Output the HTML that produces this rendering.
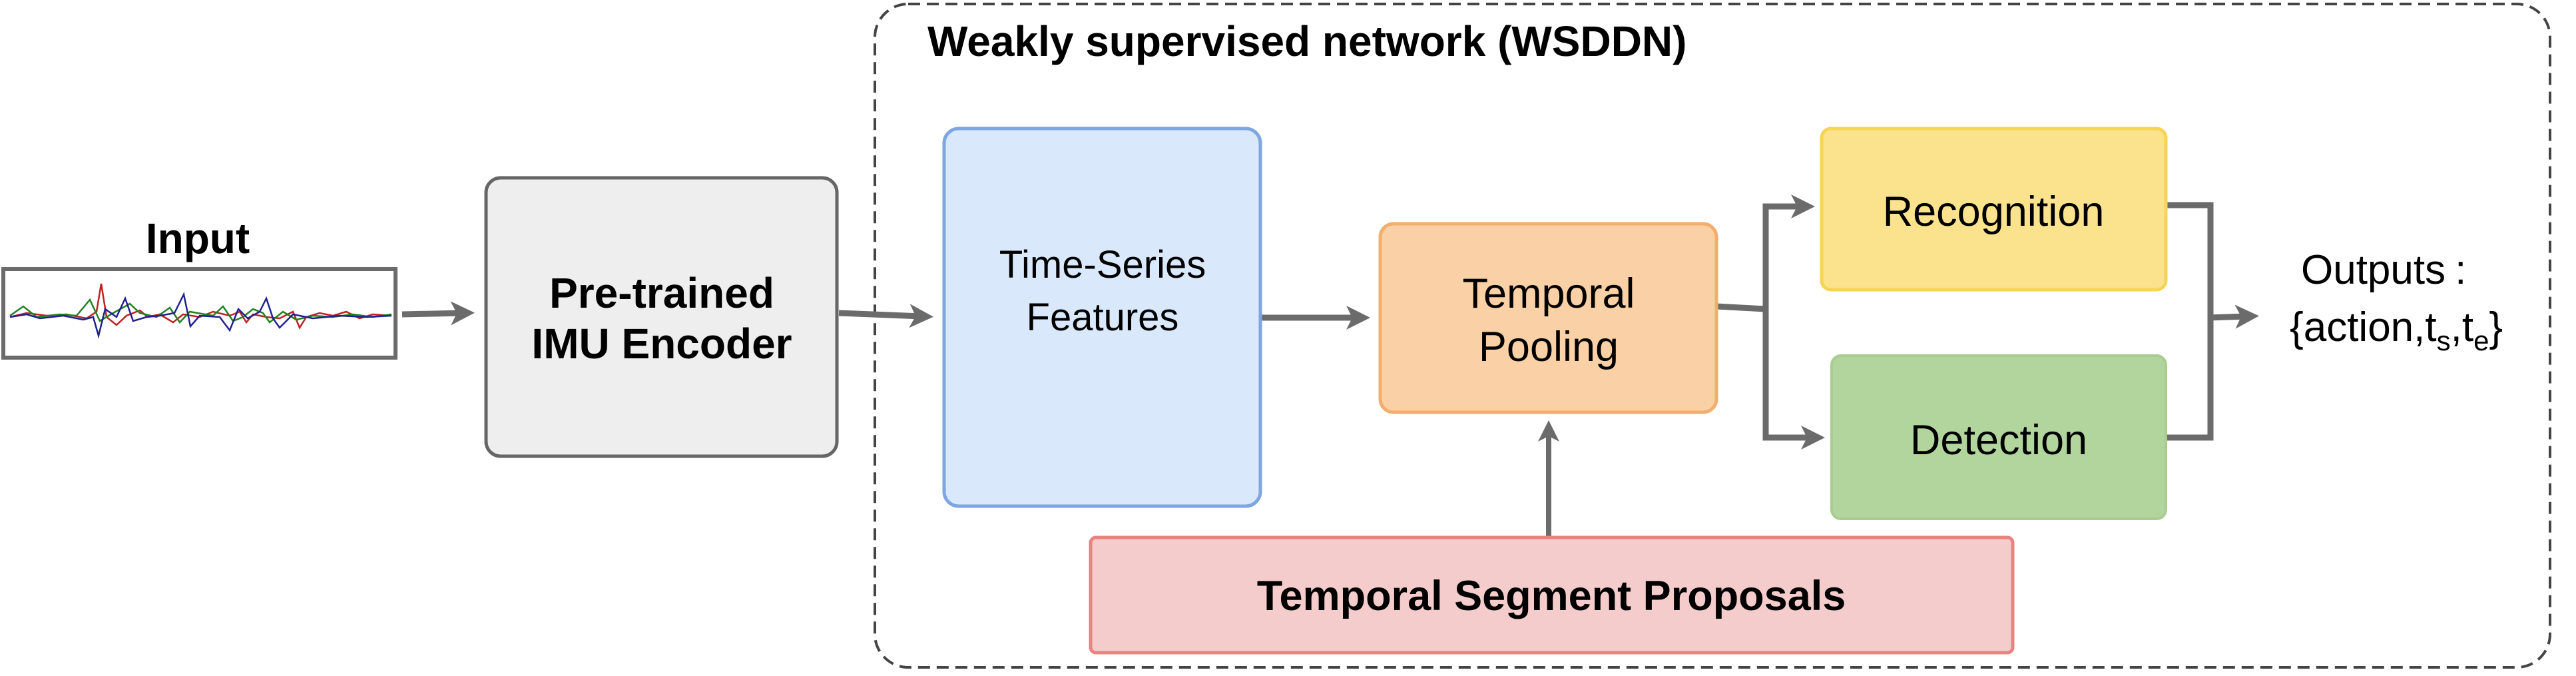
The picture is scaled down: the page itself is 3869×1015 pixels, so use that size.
<!DOCTYPE html>
<html><head><meta charset="utf-8"><style>
body{margin:0;background:#fff;}
svg text{font-family:"Liberation Sans",Arial,sans-serif;}
</style></head><body>
<svg width="3869" height="1010" viewBox="0 0 3869 1010" xmlns="http://www.w3.org/2000/svg">
<defs>
<marker id="ah" markerWidth="4" markerHeight="4" refX="2" refY="2" orient="auto" markerUnits="strokeWidth">
<path d="M0,0 L4,2 L0,4 L1,2 Z" fill="#6b6b6b"/>
</marker>
</defs>
<!-- dashed container -->
<rect x="1314" y="6" width="2516" height="996" rx="50" fill="none" stroke="#444" stroke-width="4" stroke-dasharray="18,10"/>
<text x="1393" y="84" font-size="64" font-weight="bold">Weakly supervised network (WSDDN)</text>

<!-- input -->
<text x="297" y="380" font-size="64" font-weight="bold" text-anchor="middle">Input</text>
<rect x="5" y="404" width="589" height="133" fill="#fff" stroke="#6b6b6b" stroke-width="6"/>
<polyline fill="none" stroke="#c02020" stroke-width="2.5" points="15,476 40,470 70,474 100,472 130,478 145,468 152,426 160,476 175,488 190,474 210,466 222,476 240,472 260,484 275,472 300,476 320,468 345,474 360,468 370,484 380,472 400,476 420,478 440,468 450,492 460,476 480,470 500,474 520,468 540,478 560,472 588,474"/>
<polyline fill="none" stroke="#208020" stroke-width="2.5" points="15,474 35,460 55,476 90,472 115,474 135,450 150,482 170,470 195,456 210,470 235,476 255,462 270,484 285,468 320,474 335,460 350,482 365,476 380,464 395,470 405,484 425,468 445,480 470,474 500,476 530,472 560,476 588,472"/>
<polyline fill="none" stroke="#202090" stroke-width="2.5" points="15,476 40,472 60,478 95,474 125,480 140,476 148,504 158,464 175,476 188,448 200,482 220,476 240,474 262,470 276,442 286,490 300,474 330,476 345,496 358,464 372,478 390,468 400,448 410,478 420,492 440,472 470,478 510,474 550,476 588,474"/>

<!-- arrows -->
<line x1="604" y1="472" x2="695" y2="470" stroke="#6b6b6b" stroke-width="9" marker-end="url(#ah)"/>
<line x1="1260" y1="470" x2="1384" y2="475" stroke="#6b6b6b" stroke-width="9" marker-end="url(#ah)"/>
<line x1="1893" y1="477" x2="2040" y2="477" stroke="#6b6b6b" stroke-width="9" marker-end="url(#ah)"/>
<line x1="2326" y1="807" x2="2326" y2="647" stroke="#6b6b6b" stroke-width="8" marker-end="url(#ah)"/>
<polyline points="2578,460 2652,464" fill="none" stroke="#6b6b6b" stroke-width="9"/>
<polyline points="2700,310 2652,310 2652,657 2720,657" fill="none" stroke="#6b6b6b" stroke-width="9"/>
<line x1="2648" y1="310" x2="2708" y2="310" stroke="#6b6b6b" stroke-width="9" marker-end="url(#ah)"/>
<line x1="2648" y1="657" x2="2723" y2="657" stroke="#6b6b6b" stroke-width="9" marker-end="url(#ah)"/>
<polyline points="3253,308 3320,308 3320,657 3253,657" fill="none" stroke="#6b6b6b" stroke-width="9"/>
<line x1="3316" y1="477" x2="3375" y2="475" stroke="#6b6b6b" stroke-width="9" marker-end="url(#ah)"/>

<!-- boxes -->
<rect x="730" y="267" width="527" height="418" rx="22" fill="#eeeeee" stroke="#666" stroke-width="5"/>
<text x="994" y="462" font-size="64" font-weight="bold" text-anchor="middle">Pre-trained</text>
<text x="994" y="538" font-size="64" font-weight="bold" text-anchor="middle">IMU Encoder</text>

<rect x="1418" y="193" width="475" height="567" rx="22" fill="#dae8fc" stroke="#7ea6e0" stroke-width="5"/>
<text x="1656" y="417" font-size="58" text-anchor="middle">Time-Series</text>
<text x="1656" y="496" font-size="58" text-anchor="middle">Features</text>

<rect x="2073" y="336" width="505" height="283" rx="20" fill="#fad1a6" stroke="#f3ad6e" stroke-width="5"/>
<text x="2326" y="462" font-size="63" text-anchor="middle">Temporal</text>
<text x="2326" y="542" font-size="63" text-anchor="middle">Pooling</text>

<rect x="2736" y="193" width="517" height="242" rx="14" fill="#fbe28c" stroke="#f6d455" stroke-width="5"/>
<text x="2994" y="339" font-size="63" text-anchor="middle">Recognition</text>

<rect x="2751" y="534" width="502" height="245" rx="14" fill="#b2d49d" stroke="#a8cc92" stroke-width="4"/>
<text x="3002" y="682" font-size="63" text-anchor="middle">Detection</text>

<rect x="1638" y="807" width="1385" height="173" rx="8" fill="#f5cccc" stroke="#ee8080" stroke-width="5"/>
<text x="2330" y="916" font-size="63" font-weight="bold" text-anchor="middle">Temporal Segment Proposals</text>

<!-- outputs -->
<text x="3456" y="426" font-size="62">Outputs<tspan dx="14">:</tspan></text>
<text x="3439" y="512" font-size="62">{action,t<tspan font-size="42" dy="14">s</tspan><tspan dy="-14">,t</tspan><tspan font-size="42" dy="14">e</tspan><tspan dy="-14">}</tspan></text>
</svg>
</body></html>
